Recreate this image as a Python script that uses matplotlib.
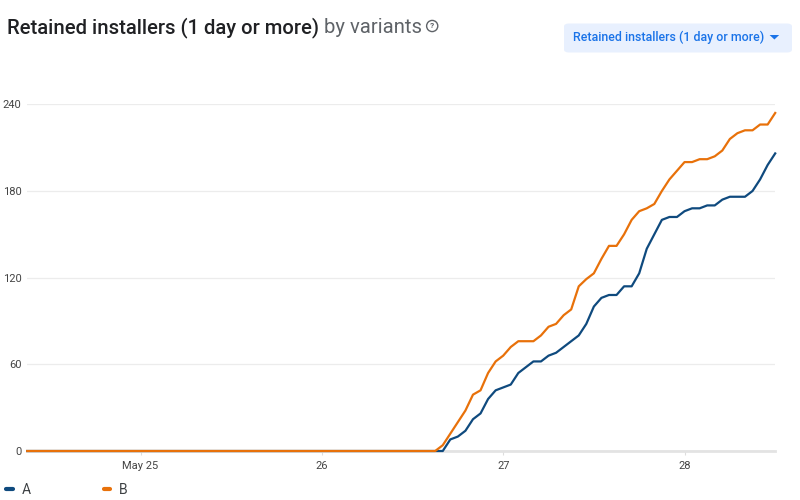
import matplotlib
matplotlib.use("Agg")
import matplotlib.pyplot as plt
from matplotlib.patches import FancyBboxPatch, Polygon
from matplotlib.lines import Line2D
import pandas as pd

# hourly cumulative retained installers, May 24 09:00 -> May 28 12:00
start_time = "2024-05-24 09:00"
n_points = 100

variant_a = [
    0, 0, 0, 0, 0, 0, 0, 0, 0, 0, 0, 0, 0, 0, 0, 0, 0, 0, 0, 0,
    0, 0, 0, 0, 0, 0, 0, 0, 0, 0, 0, 0, 0, 0, 0, 0, 0, 0, 0, 0,
    0, 0, 0, 0, 0, 0, 0, 0, 0, 0, 0, 0, 0, 0, 0, 0,
    8, 10, 14, 22, 26, 36, 42, 44, 46, 54, 58, 62, 62, 66, 68,
    72, 76, 80, 88, 100, 106, 108, 108, 114, 114, 123, 140, 150, 160, 162,
    162, 166, 168, 168, 170, 170, 174, 176, 176, 176, 180, 188, 198, 206,
]
variant_b = [
    0, 0, 0, 0, 0, 0, 0, 0, 0, 0, 0, 0, 0, 0, 0, 0, 0, 0, 0, 0,
    0, 0, 0, 0, 0, 0, 0, 0, 0, 0, 0, 0, 0, 0, 0, 0, 0, 0, 0, 0,
    0, 0, 0, 0, 0, 0, 0, 0, 0, 0, 0, 0, 0, 0, 0,
    4, 12, 20, 28, 39, 42, 54, 62, 66, 72, 76, 76, 76, 80, 86,
    88, 94, 98, 114, 119, 123, 133, 142, 142, 150, 160, 166, 168, 171, 180,
    188, 194, 200, 200, 202, 202, 204, 208, 216, 220, 222, 222, 226, 226, 234,
]
series_names = ["A", "B"]
y_ticks = [0, 60, 120, 180, 240]
x_ticks = ["2024-05-25", "2024-05-26", "2024-05-27", "2024-05-28"]
x_tick_labels = ["May 25", "26", "27", "28"]

COL_A = "#0f4a7e"
COL_B = "#e8710a"

plt.rcParams["font.family"] = ["Roboto", "DejaVu Sans"]

times = pd.date_range(start_time, periods=n_points, freq="h")

fig = plt.figure(figsize=(8, 5), dpi=100)
ax = fig.add_axes([0.034, 0.098, 0.935, 0.6934])

ax.plot(times, variant_a, color=COL_A, lw=1.6, solid_joinstyle="round", zorder=3, clip_on=False)
ax.plot(times, variant_b, color=COL_B, lw=1.6, solid_joinstyle="round", zorder=3, clip_on=False)

ax.set_xlim(times[0], times[-1])
ax.set_ylim(0, 240)
ax.set_yticks(y_ticks)
ax.set_yticklabels([str(v) for v in y_ticks])
ax.set_xticks(pd.to_datetime(x_ticks))
ax.set_xticklabels(x_tick_labels)

ax.grid(axis="y", color="#ececec", lw=0.9)
ax.set_axisbelow(True)
for side in ["top", "right", "left"]:
    ax.spines[side].set_visible(False)
ax.spines["bottom"].set_color("#e3e3e3")
ax.spines["bottom"].set_linewidth(2)
ax.tick_params(axis="y", length=0, pad=4, labelsize=8, labelcolor="#444444")
ax.tick_params(axis="x", length=3, color="#dddddd", pad=4, labelsize=8, labelcolor="#444444")

# title
t1 = fig.text(0.009, 0.945, "Retained installers (1 day or more)", fontsize=14.6,
              color="#202124", va="center", ha="left", fontweight="medium")
fig.canvas.draw()
r = fig.canvas.get_renderer()
bb = t1.get_window_extent(r)
t2 = fig.text((bb.x1 + 5) / 800, 0.945, "by variants", fontsize=14.6,
              color="#5f6368", va="center", ha="left")
bb2 = t2.get_window_extent(r)
fig.text((bb2.x1 + 10) / 800, 0.948, "?", fontsize=6, color="#5f6368", ha="center",
         va="center", fontweight="bold",
         bbox=dict(boxstyle="circle,pad=0.25", fc="none", ec="#5f6368", lw=1.0))

# metric selector button
btn = FancyBboxPatch((0.705, 0.895), 0.285, 0.058, boxstyle="round,pad=0,rounding_size=0.006",
                     transform=fig.transFigure, fc="#e8f0fe", ec="none")
fig.patches.append(btn)
fig.text(0.716, 0.925, "Retained installers (1 day or more)", fontsize=8.9,
         color="#1a73e8", ha="left", va="center", fontweight="medium")
fig.patches.append(Polygon([(0.962, 0.930), (0.974, 0.930), (0.968, 0.921)],
                           closed=True, transform=fig.transFigure, fc="#1a73e8", ec="none"))

# legend
for name, col, x0 in zip(series_names, [COL_A, COL_B], [0.008, 0.130]):
    fig.lines.append(Line2D([x0, x0 + 0.008], [0.022, 0.022], transform=fig.transFigure,
                            color=col, lw=3, solid_capstyle="round"))
    fig.text(x0 + 0.019, 0.020, name, fontsize=10, color="#3c4043", ha="left", va="center")

fig.savefig("out.png", dpi=100)
